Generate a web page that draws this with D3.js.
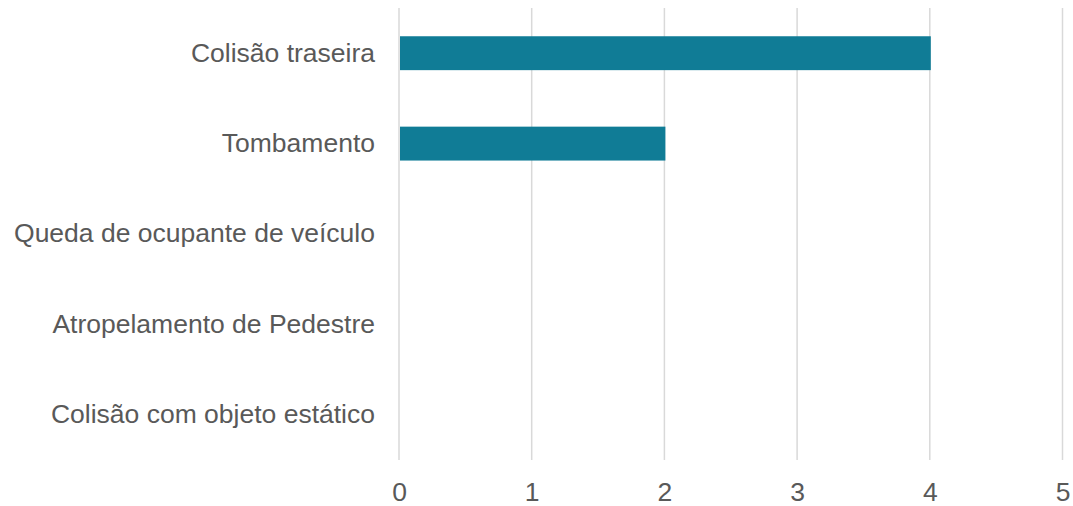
<!DOCTYPE html>
<html>
<head>
<meta charset="utf-8">
<script src="https://cdn.jsdelivr.net/npm/d3@7"></script>
<style>
  body { margin: 0; background: #fff; }
  svg { display: block; font-family: "Liberation Sans", Arial, sans-serif; }
</style>
</head>
<body>
<div id="chart"></div>
<script>
const categories = [
    "Colisão traseira",
    "Tombamento",
    "Queda de ocupante de veículo",
    "Atropelamento de Pedestre",
    "Colisão com objeto estático"
];
const values = [4, 2, 0, 0, 0];
const xTicks = [0, 1, 2, 3, 4, 5];

const W = 1073, H = 506;
const margin = { top: 8, right: 10, bottom: 46, left: 399 };
const width = 1062.5 - margin.left;
const height = 460 - margin.top;

const svg = d3.select("#chart")
    .append("svg")
    .attr("width", W)
    .attr("height", H);

const chart = svg.append("g")
    .attr("transform", `translate(${margin.left}, ${margin.top})`);

const xScale = d3.scaleLinear()
    .domain([0, 5])
    .range([0, width]);

const yScale = d3.scaleBand()
    .domain(categories)
    .range([0, height])
    .paddingInner(0.625)
    .paddingOuter(0.3125);

// Grid
chart.append("g")
    .selectAll("line")
    .data(xTicks)
    .enter()
    .append("line")
    .attr("x1", d => xScale(d))
    .attr("x2", d => xScale(d))
    .attr("y1", 0)
    .attr("y2", height)
    .style("stroke", "#d9d9d9")
    .style("stroke-width", 1.5);

// Barras
chart.selectAll(".bar")
    .data(values.map((v, i) => [categories[i], v]))
    .enter()
    .append("rect")
    .attr("class", "bar")
    .attr("x", xScale(0) + 1)
    .attr("y", d => yScale(d[0]))
    .attr("width", d => Math.max(0, xScale(d[1]) - xScale(0)))
    .attr("height", yScale.bandwidth())
    .style("fill", "#107c96");

// X-Axis
const xAxis = chart.append("g")
    .attr("transform", `translate(0, ${height})`)
    .call(d3.axisBottom(xScale).tickValues(xTicks).tickSize(0).tickPadding(22).tickFormat(d3.format("d")));
xAxis.select(".domain").remove();
xAxis.selectAll("text")
    .style("font-size", "26.5px")
    .style("font-family", "'Liberation Sans', Arial, sans-serif")
    .style("fill", "#595959");

// Y-Axis
const yAxis = chart.append("g")
    .call(d3.axisLeft(yScale).tickSize(0).tickPadding(24));
yAxis.select(".domain").remove();
yAxis.selectAll("text")
    .style("font-size", "26.5px")
    .style("font-family", "'Liberation Sans', Arial, sans-serif")
    .style("fill", "#595959");
</script>
</body>
</html>
